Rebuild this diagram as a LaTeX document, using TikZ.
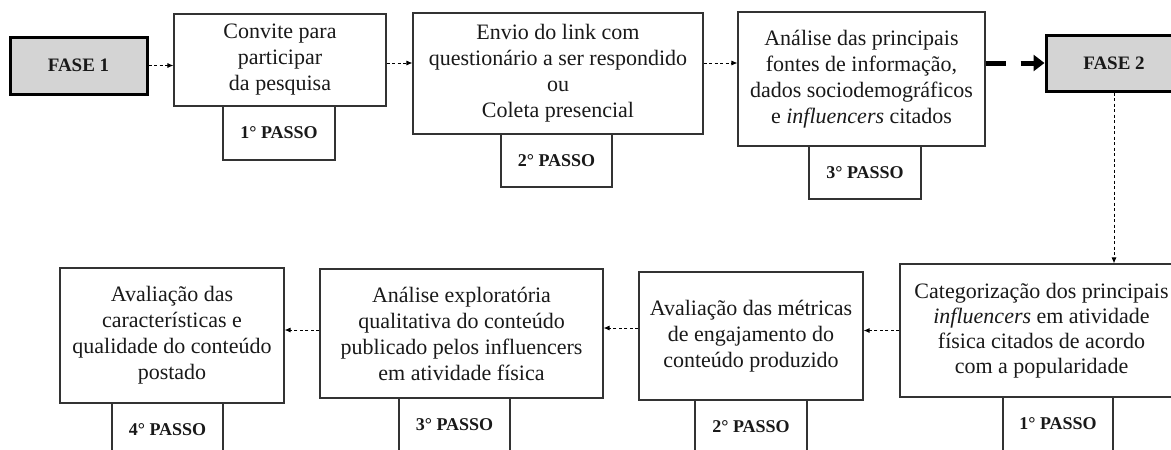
\documentclass[tikz,border=0pt]{standalone}
\usepackage{fontspec}
\setmainfont{Liberation Serif}
\usetikzlibrary{arrows.meta,calc}
\begin{document}
\begin{tikzpicture}[x=1pt,y=-1pt,
  box/.style={draw=black!80, line width=1.1pt, fill=white, align=center, inner sep=0pt, text=black!90, font=\fontsize{22}{26}\selectfont},
  passo/.style={draw=black!80, line width=1.1pt, fill=white, inner sep=0pt, text=black!90, font=\fontsize{18}{21}\selectfont\bfseries},
  fase/.style={draw=black, line width=3pt, fill=black!17, inner sep=0pt, text=black!90, font=\fontsize{19}{22}\selectfont\bfseries},
  link/.style={draw=black, line width=0.9pt, dash pattern=on 3pt off 2.5pt, -{Latex[length=6pt,width=5pt]}},
  bigarrow/.style={draw=black, line width=5pt, dash pattern=on 20pt off 15pt on 40pt, -{Triangle[length=11pt,width=16pt]}}
]
\clip (0,0) rectangle (1171,450);
\fill[white] (0,0) rectangle (1171,450);

% top row
\node[passo, minimum width=112pt, minimum height=54pt] (p1a) at (279,133) {1° PASSO};
\node[passo, minimum width=111pt, minimum height=53pt] (p2a) at (556.5,160.5) {2° PASSO};
\node[passo, minimum width=112pt, minimum height=53pt] (p3a) at (865,172.5) {3° PASSO};

\node[fase, minimum width=137pt, minimum height=57pt] (fase1) at (78.5,65.5) {FASE 1};
\node[box, minimum width=212pt, minimum height=92pt] (convite) at (280,60) {Convite para\\participar\\da pesquisa};
\node[box, minimum width=290pt, minimum height=121pt] (envio) at (558,73.5) {Envio do link com\\questionário a ser respondido\\ou\\Coleta presencial};
\node[box, minimum width=247pt, minimum height=134pt] (analise) at (861.5,79) {Análise das principais\\fontes de informação,\\dados sociodemográficos\\e \textit{influencers} citados};
\node[fase, minimum width=136pt, minimum height=56pt] (fase2) at (1114,63) {FASE 2};

% bottom row
\node[passo, minimum width=110pt, minimum height=54pt] (p1b) at (1058,424) {1° PASSO};
\node[passo, minimum width=112pt, minimum height=54pt] (p2b) at (751,427) {2° PASSO};
\node[passo, minimum width=111pt, minimum height=54pt] (p3b) at (454.5,425) {3° PASSO};
\node[passo, minimum width=111pt, minimum height=54pt] (p4b) at (167.5,430) {4° PASSO};

\node[box, font=\fontsize{22}{25}\selectfont, minimum width=283pt, minimum height=133pt] (categ) at (1041.5,330.5) {Categorização dos principais\\\textit{influencers} em atividade\\física citados de acordo\\com a popularidade};
\node[box, minimum width=224pt, minimum height=128pt] (metricas) at (751,336) {Avaliação das métricas\\de engajamento do\\conteúdo produzido};
\node[box, minimum width=283pt, minimum height=129pt] (explor) at (461.5,333.5) {Análise exploratória\\qualitativa do conteúdo\\publicado pelos influencers\\em atividade física};
\node[box, minimum width=224pt, minimum height=135pt] (avalia) at (172,335.5) {Avaliação das\\características e\\qualidade do conteúdo\\postado};

% connectors
\draw[link] (fase1.east) -- (fase1.east -| convite.west);
\draw[link] ([yshift=-3pt]convite.east) -- ([yshift=-3pt]convite.east -| envio.west);
\draw[link] ([yshift=10.5pt]envio.east) -- ([yshift=10.5pt]envio.east -| analise.west);
\draw[bigarrow] (fase2.west -| analise.east) -- (fase2.west);
\draw[link] (fase2.south) -- (fase2.south |- categ.north);
\draw[link] (categ.west) -- (categ.west -| metricas.east);
\draw[link] ([yshift=8pt]metricas.west) -- ([yshift=8pt]metricas.west -| explor.east);
\draw[link] ([yshift=3.5pt]explor.west) -- ([yshift=3.5pt]explor.west -| avalia.east);
\end{tikzpicture}
\end{document}
